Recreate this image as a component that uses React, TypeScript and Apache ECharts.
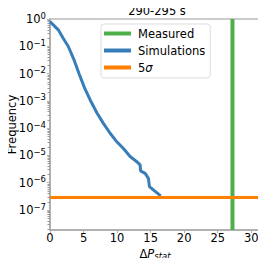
import React, { useEffect, useRef } from "react";
import * as echarts from "echarts";

const simX = [0, 1.24, 1.94, 2.73, 3.58, 4.33, 5.15, 5.97, 7.0, 7.96, 8.96, 9.85, 10.94, 11.94, 12.94, 13.43, 13.5, 14.18, 14.67, 14.82, 15.4, 16.5];
const simY = [0.8, 0.4, 0.2, 0.098, 0.032, 0.0098, 0.003, 0.0011, 3.6e-4, 1.5e-4, 6.5e-5, 3.4e-5, 1.8e-5, 9.1e-6, 5.9e-6, 4.5e-6, 2.7e-6, 2.2e-6, 1.45e-6, 7.2e-7, 5.5e-7, 3.3e-7];
const measuredX = 27.2;
const fiveSigma = 2.87e-7;
const xMin = 0;
const xMax = 31.3;
const yMin = 1.85e-8;
const yMax = 1;
const xTicks = [0, 5, 10, 15, 20, 25, 30];
const yDecades = [-8, -7, -6, -5, -4, -3, -2, -1];
const yMinorMultipliers = [2, 3, 4, 5, 6, 7, 8, 9];
const titleText = "290-295 s";
const xName = "Δ{i|P}{s|stat}";
const yName = "Frequency";

const FONT = "DejaVu Sans";

export default function App() {
  const ref = useRef<HTMLDivElement>(null);
  useEffect(() => {
    if (!ref.current) return;
    const chart = echarts.init(ref.current, null, { renderer: "svg" });
    const minorVals: number[] = [];
    yDecades.forEach((d) =>
      yMinorMultipliers.forEach((m) => {
        const v = m * Math.pow(10, d);
        if (v > yMin && v < yMax) minorVals.push(v);
      })
    );
    chart.setOption({
      animation: false,
      textStyle: { fontFamily: FONT },
      grid: {
        left: 50,
        top: 19,
        right: 6,
        bottom: 36,
        show: true,
        borderColor: "#999",
        borderWidth: 1,
        containLabel: false,
        outerBoundsMode: "none",
      },
      graphic: [
        {
          type: "text",
          x: 157,
          y: 10.5,
          style: {
            text: titleText,
            fontFamily: FONT,
            fontSize: 11.5,
            fill: "#000",
            align: "center",
            verticalAlign: "middle",
          },
        },
        {
          type: "text",
          x: 12,
          y: 124.5,
          rotation: Math.PI / 2,
          style: {
            text: yName,
            fontFamily: FONT,
            fontSize: 11.5,
            fill: "#000",
            align: "center",
            verticalAlign: "middle",
          },
        },
        {
          type: "text",
          x: 155,
          y: 253.5,
          style: {
            text: xName,
            fontFamily: FONT,
            fontSize: 11.5,
            fill: "#000",
            align: "center",
            verticalAlign: "middle",
            rich: {
              i: { fontStyle: "italic", fontSize: 11.5, fontFamily: FONT, fill: "#000" },
              s: { fontStyle: "italic", fontSize: 8.5, fontFamily: FONT, fill: "#000", padding: [4, 0, 0, 0] },
            },
          },
        },
      ],
      legend: {
        orient: "vertical",
        left: 101,
        top: 24,
        icon: "rect",
        itemWidth: 27,
        itemHeight: 4,
        itemGap: 4,
        padding: [3, 5, 4, 3],
        backgroundColor: "rgba(255,255,255,0.85)",
        borderColor: "#ddd",
        borderWidth: 1,
        borderRadius: 3,
        data: ["Measured", "Simulations", "5σ"],
        formatter: (name: string) => (name === "5σ" ? "5{i|σ}" : name),
        textStyle: {
          fontFamily: FONT,
          fontSize: 11.5,
          lineHeight: 13,
          color: "#000",
          padding: [0, 0, 0, 2],
          rich: { i: { fontStyle: "italic", fontSize: 11.5, fontFamily: FONT } },
        },
      },
      xAxis: {
        type: "value",
        min: xMin,
        max: xMax,
        interval: 5,
        axisLine: { show: true, lineStyle: { color: "#b0b0b0", width: 2 } },
        axisTick: { show: true, length: 3, lineStyle: { color: "#b0b0b0" } },
        splitLine: { show: false },
        axisLabel: {
          fontFamily: FONT,
          fontSize: 11.5,
          color: "#000",
          margin: 2,
          showMaxLabel: false,
          formatter: (v: number) => (xTicks.includes(v) ? String(v) : ""),
        },
      },
      yAxis: [
        {
          type: "log",
          logBase: 10,
          min: yMin,
          max: yMax,
          axisLine: { show: true, lineStyle: { color: "#b0b0b0", width: 2 } },
          axisTick: { show: true, length: 3, lineStyle: { color: "#b0b0b0" } },
          splitLine: { show: false },
          axisLabel: {
            fontFamily: FONT,
            fontSize: 11.5,
            color: "#000",
            margin: 4,
            showMinLabel: false,
            formatter: (v: number) => {
              const e = Math.round(Math.log10(v));
              if (Math.abs(Math.log10(v) - e) > 1e-6) return "";
              return "10{sup|" + (e < 0 ? "−" + -e : String(e)) + "}";
            },
            rich: { sup: { fontSize: 8.5, fontFamily: FONT, padding: [0, 0, 7, 0] } },
          },
        },
        {
          type: "log",
          logBase: 10,
          min: yMin,
          max: yMax,
          position: "left",
          offset: 0,
          axisLine: { show: false },
          axisLabel: { show: false },
          splitLine: { show: false },
          axisTick: {
            show: true,
            length: 2.5,
            customValues: minorVals,
            lineStyle: { color: "#999", width: 1 },
          },
        },
      ],
      series: [
        {
          name: "Measured",
          type: "line",
          data: [[measuredX, yMin], [measuredX, yMax]],
          showSymbol: false,
          lineStyle: { color: "#4daf4a", width: 4 },
          itemStyle: { color: "#4daf4a" },
          z: 3,
        },
        {
          name: "Simulations",
          type: "line",
          data: simX.map((x, i) => [x, simY[i]]),
          showSymbol: false,
          lineStyle: { color: "#377eb8", width: 3 },
          itemStyle: { color: "#377eb8" },
          z: 2,
        },
        {
          name: "5σ",
          type: "line",
          data: [[xMin, fiveSigma], [xMax, fiveSigma]],
          showSymbol: false,
          lineStyle: { color: "#ff7f00", width: 3 },
          itemStyle: { color: "#ff7f00" },
          z: 4,
        },
      ],
    });
    return () => chart.dispose();
  }, []);
  return <div ref={ref} style={{ width: 266, height: 266, margin: -8 }} />;
}
